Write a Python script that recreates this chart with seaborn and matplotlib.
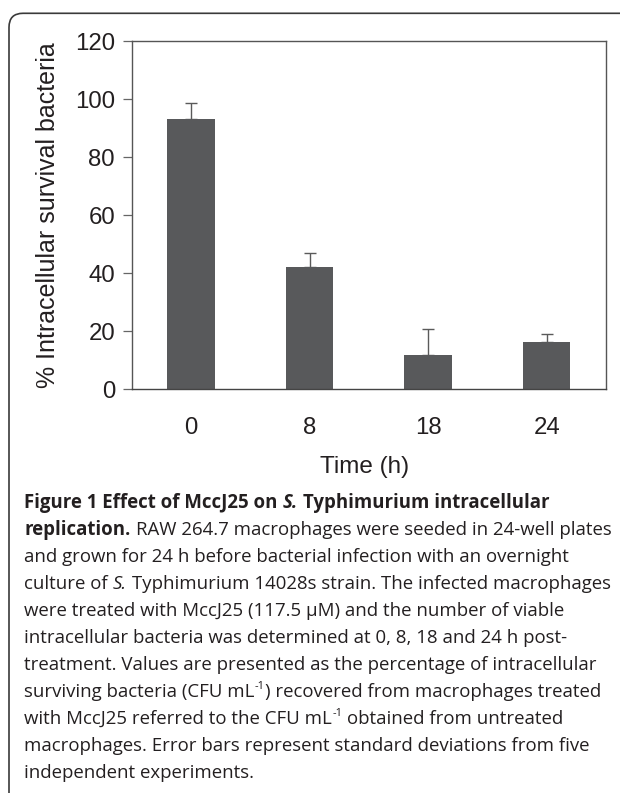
import matplotlib
matplotlib.use("Agg")
import matplotlib.pyplot as plt
import seaborn as sns
import numpy as np
import pandas as pd
from matplotlib.patches import FancyBboxPatch

# ---------------- data ----------------
times = ["0", "8", "18", "24"]
survival = [93.0, 42.0, 11.6, 16.1]
sd_upper = [5.6, 5.0, 9.0, 2.8]
yticks = [0, 20, 40, 60, 80, 100, 120]

x_label = "Time (h)"
y_label = "% Intracellular survival bacteria"

caption_lines = [
    [("Figure 1 Effect of MccJ25 on ", "b"), ("S.", "bi"), (" Typhimurium intracellular", "b")],
    [("replication.", "b"), (" RAW 264.7 macrophages were seeded in 24-well plates", "r")],
    [("and grown for 24 h before bacterial infection with an overnight", "r")],
    [("culture of ", "r"), ("S.", "i"), (" Typhimurium 14028s strain. The infected macrophages", "r")],
    [("were treated with MccJ25 (117.5 µM) and the number of viable", "r")],
    [("intracellular bacteria was determined at 0, 8, 18 and 24 h post-", "r")],
    [("treatment. Values are presented as the percentage of intracellular", "r")],
    [("surviving bacteria (CFU mL", "r"), ("-1", "sup"), (") recovered from macrophages treated", "r")],
    [("with MccJ25 referred to the CFU mL", "r"), ("-1", "sup"), (" obtained from untreated", "r")],
    [("macrophages. Error bars represent standard deviations from five", "r")],
    [("independent experiments.", "r")],
]

# ---------------- style ----------------
sns.set_theme(style="white")
plt.rcParams["font.family"] = ["Liberation Sans", "DejaVu Sans"]

W, H = 620, 793
DPI = 100
fig = plt.figure(figsize=(W / DPI, H / DPI), dpi=DPI)
fig.patch.set_facecolor("white")

ax_l, ax_r, ax_t, ax_b = 131.7, 606.0, 41.0, 389.0
ax = fig.add_axes([ax_l / W, 1 - ax_b / H, (ax_r - ax_l) / W, (ax_b - ax_t) / H])

df = pd.DataFrame({"time": times, "survival": survival})
sns.barplot(data=df, x="time", y="survival", order=times, color="#58595b",
            saturation=1, width=0.4, errorbar=None, linewidth=0, ax=ax, zorder=2)
pos = np.arange(len(times))
ax.errorbar(pos, survival, yerr=[np.zeros(len(sd_upper)), sd_upper], fmt="none",
            ecolor="#5a5a5a", elinewidth=1.0, capsize=4.3, capthick=1.0, zorder=1)

ax.set_xlim(-0.5, len(times) - 0.5)
ax.set_ylim(0, 120)
ax.set_yticks(yticks)
for s in ax.spines.values():
    s.set_visible(True)
    s.set_color("#555555")
    s.set_linewidth(1.0)
ax.spines["bottom"].set_color("#444444")

txt_col = "#231f20"
ax.tick_params(axis="y", left=True, length=6.5, width=0.9, color="#666666",
               pad=5.5, labelsize=17.3, labelcolor=txt_col)
ax.tick_params(axis="x", bottom=False, length=0, pad=19.8, labelsize=17.3,
               labelcolor=txt_col)
ax.set_xlabel(x_label, fontsize=17.5, color=txt_col)
ax.xaxis.set_label_coords(0.491, -0.193)
ax.set_ylabel(y_label, fontsize=18, color=txt_col)
ax.yaxis.set_label_coords(-0.152, 0.5)

# ---------------- frame ----------------
frame = FancyBboxPatch((9.0 / DPI, -0.5), 8.0, (H - 13.3) / DPI + 0.5,
                       boxstyle="round,pad=0,rounding_size=0.14",
                       transform=fig.dpi_scale_trans, fill=False,
                       edgecolor="#3a3a3a", linewidth=1.2)
fig.add_artist(frame)

# ---------------- caption ----------------
renderer = fig.canvas.get_renderer()
cap_font = "Open Sans"


def seg_kwargs(style, size):
    kw = dict(family=[cap_font, "DejaVu Sans"], fontsize=size, color="#231f20")
    if "b" in style:
        kw["fontweight"] = "bold"
    if "i" in style:
        kw["fontstyle"] = "italic"
    if style == "sup":
        kw["fontsize"] = size * 0.6
    return kw


def measure(s, kw):
    t = fig.text(0, 0, s, **kw)
    w = t.get_window_extent(renderer).width
    t.remove()
    return w


def space_w(kw):
    return measure("n n", kw) - measure("nn", kw)


def draw_line(x_px, y_px, segs, size, draw=True):
    x = x_px
    for s, style in segs:
        kw = seg_kwargs(style, size)
        sp = space_w(kw)
        lead = len(s) - len(s.lstrip(" "))
        trail = len(s) - len(s.rstrip(" "))
        core = s.strip(" ")
        x += lead * sp
        yy = y_px
        if style == "sup":
            yy = y_px - size * 0.42 * DPI / 72
        if draw:
            t = fig.text(x / W, 1 - yy / H, core, va="baseline", ha="left", **kw)
            w = t.get_window_extent(renderer).width
        else:
            w = measure(core, kw)
        x += w + trail * sp
    return x


# fit font size so the second line spans the measured width
cap_x0 = 24.5
target_right = 608.0
s0 = 12.0
right0 = draw_line(cap_x0, 0, caption_lines[1], s0, draw=False)
cap_size = s0 * (target_right - cap_x0) / (right0 - cap_x0)

base0 = 508.0
step = 27.0
for i, segs in enumerate(caption_lines):
    draw_line(cap_x0, base0 + i * step, segs, cap_size)

fig.savefig("out.png", dpi=DPI)
